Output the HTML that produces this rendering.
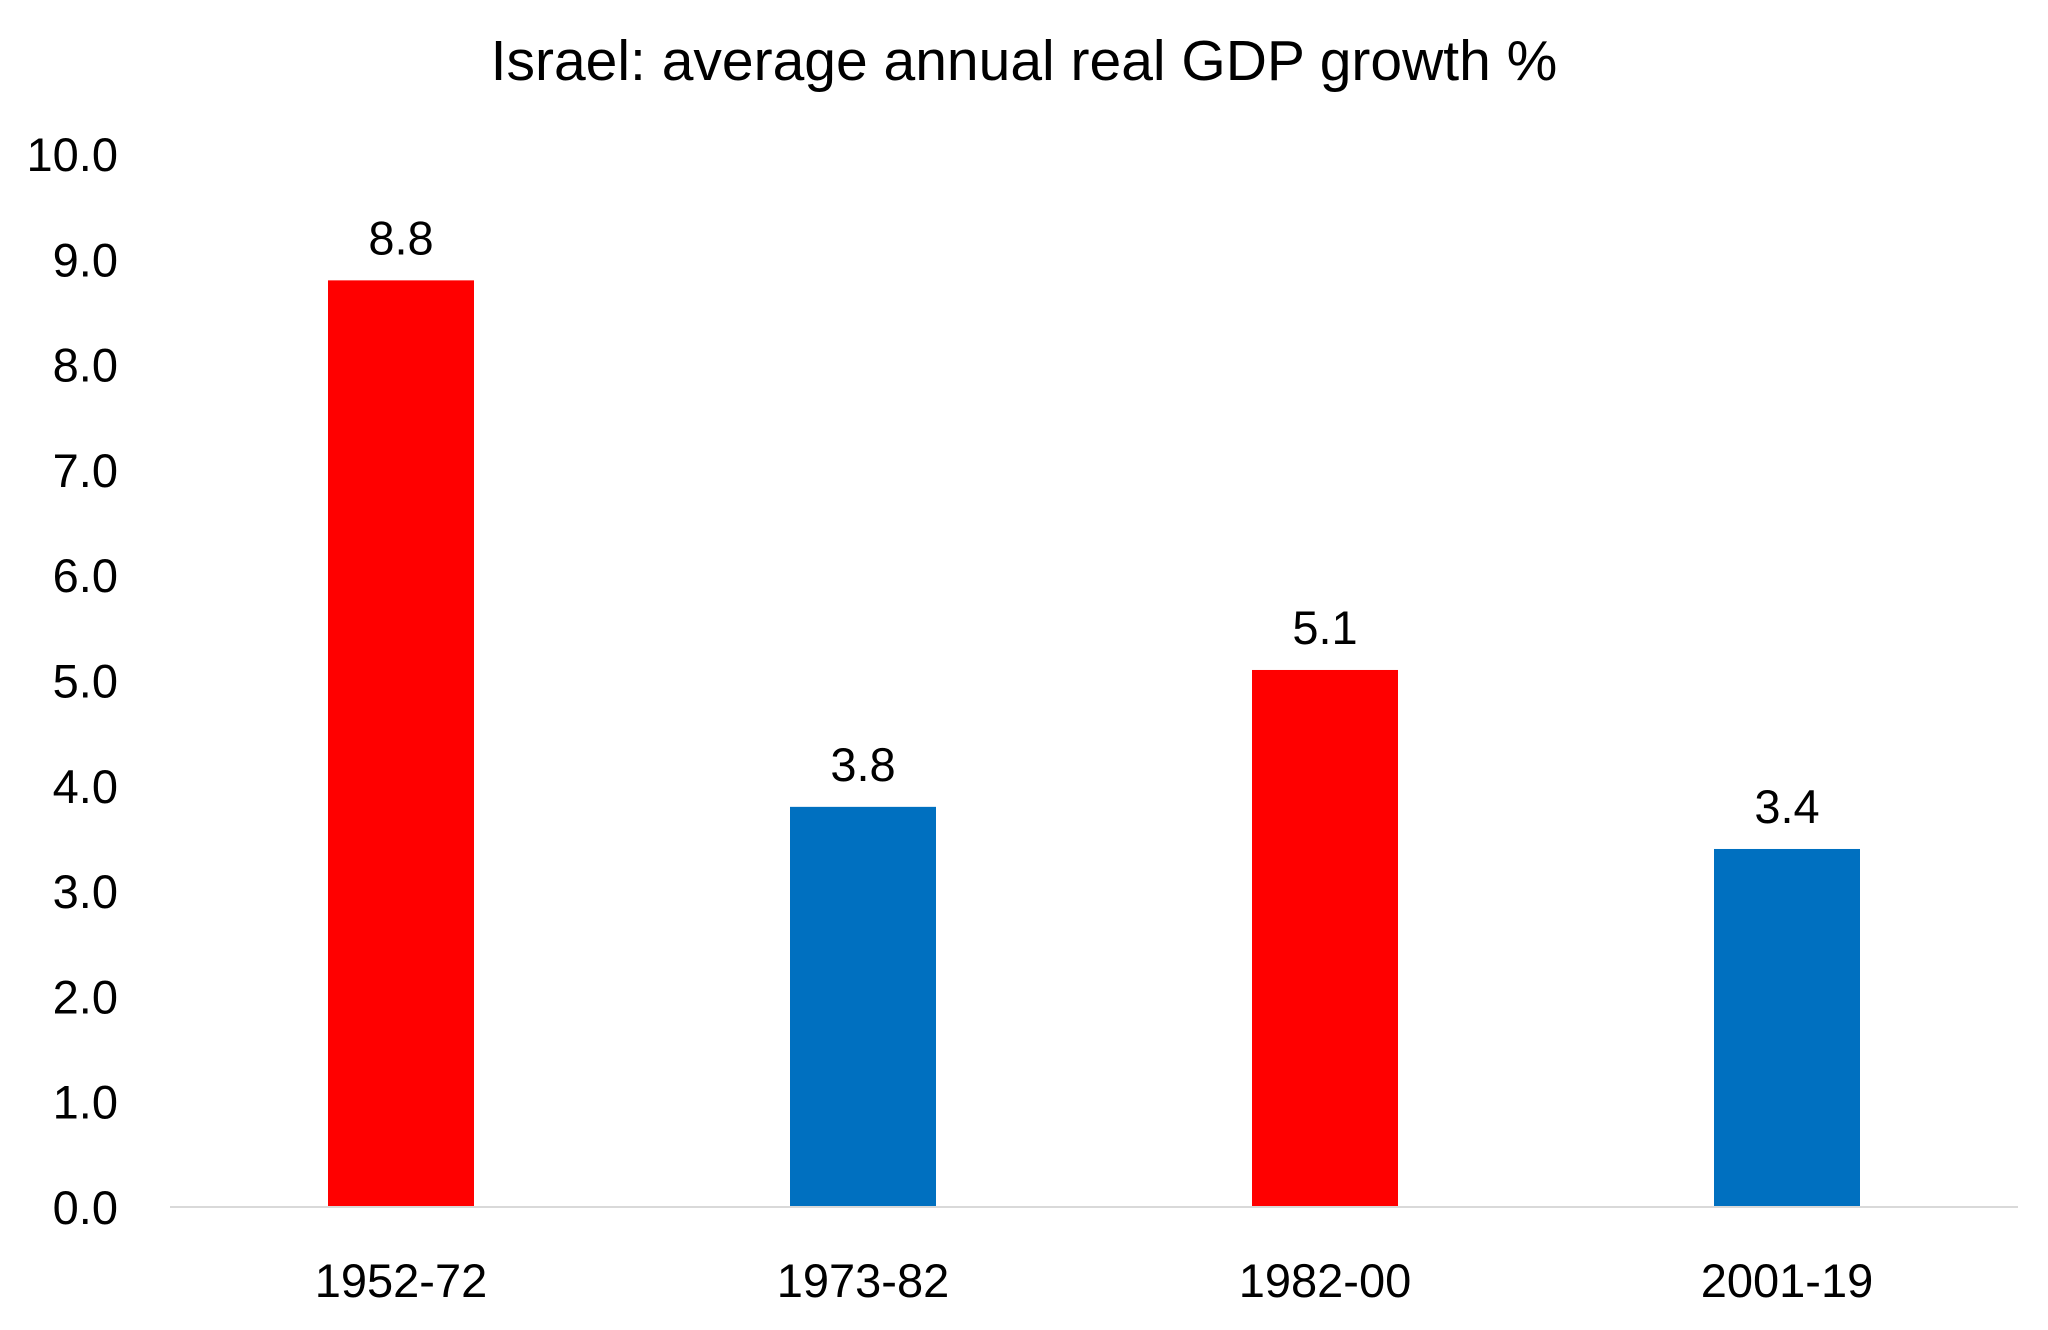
<!DOCTYPE html>
<html><head><meta charset="utf-8"><style>
html,body{margin:0;padding:0;background:#fff;}
svg{display:block;font-family:"Liberation Sans",sans-serif;}
</style></head><body>
<svg id="chart" width="2048" height="1330" viewBox="0 0 2048 1330">
<text x="1024" y="80" text-anchor="middle" font-size="57" fill="#000">Israel: average annual real GDP growth %</text>
<g id="yaxis"></g>
<g id="bars"></g>
<g id="xaxis"></g>
</svg>
<script>
const categories = ["1952-72","1973-82","1982-00","2001-19"];
const values = [8.8, 3.8, 5.1, 3.4];
const labels = ["8.8","3.8","5.1","3.4"];
const colors = ["#ff0000","#0070c0","#ff0000","#0070c0"];
const yTicks = [0,1,2,3,4,5,6,7,8,9,10];
const NS="http://www.w3.org/2000/svg";
const x0=170,x1=2018,yBase=1207,yTop=154,yMax=10;
const y=v=>yBase-(v/yMax)*(yBase-yTop);
const band=(x1-x0)/categories.length;
const xc=i=>x0+band*(i+0.5);
const bw=146;
function mk(tag,attrs,parent){const e=document.createElementNS(NS,tag);for(const k in attrs)e.setAttribute(k,attrs[k]);parent.appendChild(e);return e;}
const ya=document.getElementById('yaxis'),bg=document.getElementById('bars'),xa=document.getElementById('xaxis');
yTicks.forEach(t=>{
  const tx=mk('text',{x:118,y:y(t)+17,'text-anchor':'end','font-size':47,fill:'#000'},ya);
  tx.textContent=t.toFixed(1);
  
  
});
categories.forEach((c,i)=>{
  const r=mk('rect',{x:xc(i)-bw/2,y:y(values[i]),width:bw,height:yBase-y(values[i]),fill:colors[i]},bg);
  
  
  const l=mk('text',{x:xc(i),y:y(values[i])-26,'text-anchor':'middle','font-size':47,fill:'#000'},bg);
  l.textContent=labels[i];
  
  
  const cl=mk('text',{x:xc(i),y:1297,'text-anchor':'middle','font-size':47,fill:'#000'},xa);
  cl.textContent=c;
  
  
});
const ln=mk('line',{x1:x0,x2:x1,y1:yBase,y2:yBase,stroke:'#d9d9d9','stroke-width':2},xa);


</script>
</body></html>
